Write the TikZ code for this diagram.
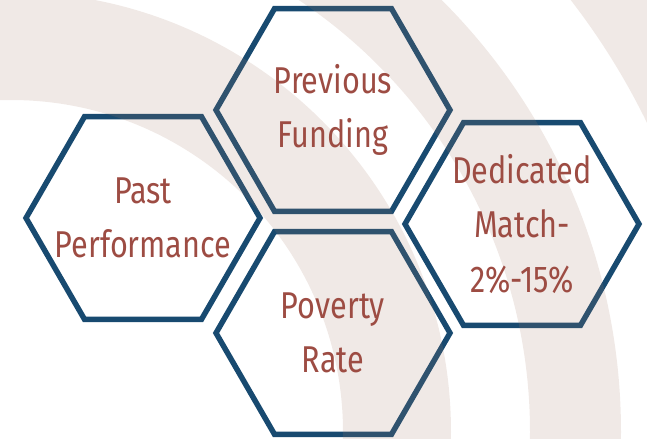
\documentclass[tikz,border=0pt]{standalone}
\usepackage{fontspec}
\setmainfont{Fira Sans}[FakeStretch=0.82]
\usetikzlibrary{shapes.geometric}

\begin{document}
\begin{tikzpicture}[x=0.75pt,y=0.75pt,yscale=-1,xscale=1,
	hexa/.style={regular polygon, regular polygon sides=6, minimum size=175.5pt, inner sep=0pt, outer sep=0pt, draw={rgb, 255:red, 24; green, 74; blue, 112 }, line width=4.1pt},
	lbl/.style={inner sep=0pt, align=center, text={rgb, 255:red, 157; green, 76; blue, 67 }, font=\fontsize{28}{41}\selectfont},
	arcband/.style={fill={rgb, 255:red, 165; green, 123; blue, 105 }, fill opacity=0.17, even odd rule}]
	\useasboundingbox (0,0) rectangle (647,439);
	% hexagons
	\node [hexa] (prev) at (333,110) {};
	\node [hexa] (past) at (143,218) {};
	\node [hexa] (match) at (522,224) {};
	\node [hexa] (pov) at (333,333) {};
	% background arcs
	\begin{scope}
		\clip (0,0) rectangle (647,439);
		\fill [arcband] (11,432) circle (440) (11,432) circle (332);
		\fill [arcband] (11,432) circle (610) (11,432) circle (519);
		\fill [arcband] (11,432) circle (900) (11,432) circle (707);
	\end{scope}
	% labels
	\node [lbl] at (prev) {Previous\\Funding};
	\node [lbl] at (past) {Past\\Performance};
	\node [lbl] at (match) {Dedicated\\Match-\\2\%-15\%};
	\node [lbl] at (pov) {Poverty\\Rate};
\end{tikzpicture}
\end{document}
